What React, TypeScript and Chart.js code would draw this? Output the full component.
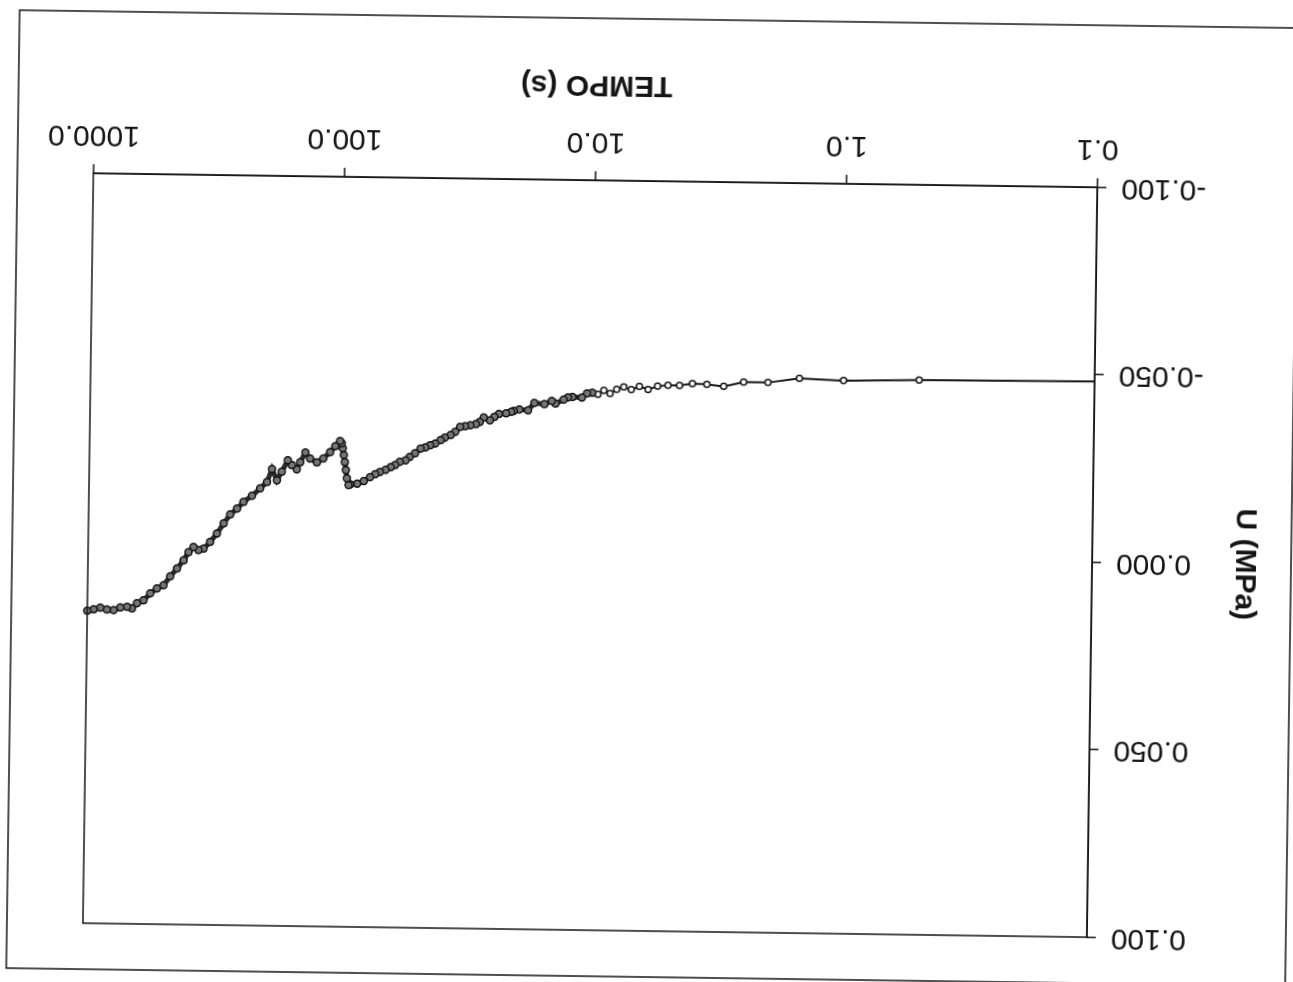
import React, { useEffect, useRef } from "react";
import { Chart, registerables } from "chart.js";

Chart.register(...registerables);

// Elapsed time (s) of each reading, log axis
const timeS = [
  0.1, 0.5, 1.0, 1.5, 2.0, 2.5, 3.0, 3.5, 4.0, 4.5, 5.0, 5.5, 6.0, 6.5, 7.0, 7.5,
  8.0, 8.5, 9.0, 9.5, 10, 10.5, 11, 12, 12.5, 13, 14, 14.5, 15.5, 17, 18, 19.5,
  20.5, 21, 22, 23.5, 24.5, 25.5, 27, 28, 29, 30.5, 32, 33.5, 35, 36.5, 38.5, 40,
  42, 44, 46, 48, 50.5, 53, 55, 58, 60.5, 63, 66, 69.5, 72.5, 76, 80.5, 85.5, 91,
  92.5, 94, 95, 96, 97, 98, 99, 100.5, 105, 110, 117, 124, 132, 138, 144.5, 149,
  156, 162, 171, 178.5, 187, 195.5, 208, 224, 242, 256.5, 273, 289.5, 307.5, 327,
  347, 363.5, 380.5, 398, 416, 441.5, 469.5, 498.5, 529.5, 562.5, 598, 634.5, 664,
  694.5, 739, 785.5, 835, 887.5, 943.5, 1000,
];

// Pore pressure U (MPa) at each time
const uMPa = [
  -0.0482, -0.0479, -0.0475, -0.0479, -0.0467, -0.0467, -0.0455, -0.046, -0.0461,
  -0.0456, -0.0456, -0.0453, -0.0444, -0.0452, -0.0443, -0.045, -0.0443, -0.0432,
  -0.044, -0.0429, -0.0433, -0.0431, -0.042, -0.0421, -0.042, -0.0414, -0.0403,
  -0.041, -0.0401, -0.0404, -0.0384, -0.0386, -0.0382, -0.0379, -0.0375, -0.0373,
  -0.0365, -0.0356, -0.0363, -0.0351, -0.0345, -0.0342, -0.0339, -0.0337, -0.0324,
  -0.0315, -0.0308, -0.0301, -0.0292, -0.0287, -0.0281, -0.0278, -0.0265, -0.0255,
  -0.0246, -0.0242, -0.0233, -0.0227, -0.022, -0.0214, -0.0208, -0.02, -0.0189,
  -0.0182, -0.018, -0.0178, -0.0196, -0.0218, -0.0239, -0.0258, -0.0276, -0.0289,
  -0.0295, -0.0281, -0.0265, -0.0248, -0.0237, -0.0247, -0.0263, -0.0237, -0.0218,
  -0.0229, -0.0242, -0.0211, -0.0188, -0.0218, -0.0183, -0.0166, -0.0146, -0.0129,
  -0.0111, -0.0095, -0.0071, -0.0044, -0.0021, -0.0003, 0.0001, -0.0007, 0.0007,
  0.0029, 0.0051, 0.0072, 0.0096, 0.0105, 0.0118, 0.0137, 0.0145, 0.0159, 0.0155,
  0.0157, 0.0164, 0.0163, 0.0158, 0.0163, 0.0167,
];

const xTickValues = [0.1, 1, 10, 100, 1000];
const yTickValues = [-0.1, -0.05, 0, 0.05, 0.1];

// Beyond this time the 0.5 s readings crowd into a solid band
const DENSE_FROM_S = 9.6;

const FONT = "Arial, 'Liberation Sans', Helvetica, sans-serif";
const INK = "#151515";

// Box around the plot area plus the outer chart border
const framePlugin = {
  id: "framePlugin",
  afterDraw(chart: any) {
    const { ctx, chartArea: a } = chart;
    ctx.save();
    ctx.strokeStyle = INK;
    ctx.lineWidth = 1.5;
    ctx.strokeRect(a.left, a.top, a.right - a.left, a.bottom - a.top);
    ctx.strokeRect(1, 5, 1279, 958);
    ctx.restore();
  },
};

export default function App() {
  const canvasRef = useRef<HTMLCanvasElement | null>(null);

  useEffect(() => {
    const canvas = canvasRef.current;
    if (!canvas) return;
    const points = timeS.map((t, i) => ({ x: t, y: uMPa[i] }));
    const dense = (i: number) => timeS[i] > DENSE_FROM_S;

    const chart = new Chart(canvas, {
      type: "line",
      data: {
        datasets: [
          {
            data: points,
            borderColor: INK,
            borderWidth: 2,
            tension: 0,
            clip: 8,
            segment: {
              borderWidth: (c: any) => (dense(c.p0DataIndex) ? 5 : 2),
              borderColor: (c: any) => (dense(c.p0DataIndex) ? "#2a2a2a" : INK),
            },
            pointStyle: "circle",
            pointRadius: (c: any) =>
              c.dataIndex === 0 ? 0 : dense(c.dataIndex) ? 3.5 : 3,
            pointBorderWidth: 1.5,
            pointBorderColor: INK,
            pointBackgroundColor: (c: any) =>
              dense(c.dataIndex) ? "#777777" : "#ffffff",
          },
        ],
      },
      options: {
        responsive: false,
        animation: false,
        devicePixelRatio: 1,
        layout: { padding: { left: 0, top: 51, right: 89, bottom: 0 } },
        plugins: {
          legend: { display: false },
          tooltip: { enabled: false },
        },
        scales: {
          x: {
            type: "logarithmic",
            position: "bottom",
            min: 0.1,
            max: 1000,
            afterBuildTicks: (s: any) => {
              s.ticks = xTickValues.map((v) => ({ value: v }));
            },
            afterFit: (s: any) => {
              s.height = 181;
            },
            ticks: {
              color: INK,
              font: { family: FONT, size: 30 },
              padding: 12,
              autoSkip: false,
              maxRotation: 0,
              callback: (v: any) => Number(v).toFixed(1),
            },
            grid: {
              drawOnChartArea: false,
              drawTicks: true,
              tickLength: 9,
              color: INK,
              lineWidth: 1.5,
            },
            border: { display: true, color: INK, width: 1.5 },
            title: {
              display: true,
              text: "TEMPO (s)",
              color: INK,
              font: { family: FONT, size: 30, weight: "bold" },
              padding: { top: 0, bottom: 67 },
            },
          },
          y: {
            type: "linear",
            min: -0.1,
            max: 0.1,
            afterBuildTicks: (s: any) => {
              s.ticks = yTickValues.map((v) => ({ value: v }));
            },
            afterFit: (s: any) => {
              s.width = 200;
            },
            ticks: {
              color: INK,
              font: { family: FONT, size: 30 },
              padding: 15,
              callback: (v: any) => {
                const n = Number(v);
                return (Math.abs(n) < 1e-9 ? 0 : n).toFixed(3);
              },
            },
            grid: {
              drawOnChartArea: false,
              drawTicks: true,
              tickLength: 9,
              color: INK,
              lineWidth: 1.5,
            },
            border: { display: true, color: INK, width: 1.5 },
            title: {
              display: true,
              text: "U (MPa)",
              color: INK,
              font: { family: FONT, size: 30, weight: "bold" },
              padding: { top: 30, bottom: 0 },
            },
          },
        },
      },
      plugins: [framePlugin],
    } as any);

    return () => chart.destroy();
  }, []);

  return (
    <div
      style={{
        position: "fixed",
        left: 0,
        top: 0,
        width: 1293,
        height: 982,
        background: "#ffffff",
        transform: "rotate(180.8deg)",
        transformOrigin: "center center",
      }}
    >
      <canvas
        ref={canvasRef}
        width={1293}
        height={982}
        style={{ display: "block", width: 1293, height: 982 }}
      />
    </div>
  );
}
